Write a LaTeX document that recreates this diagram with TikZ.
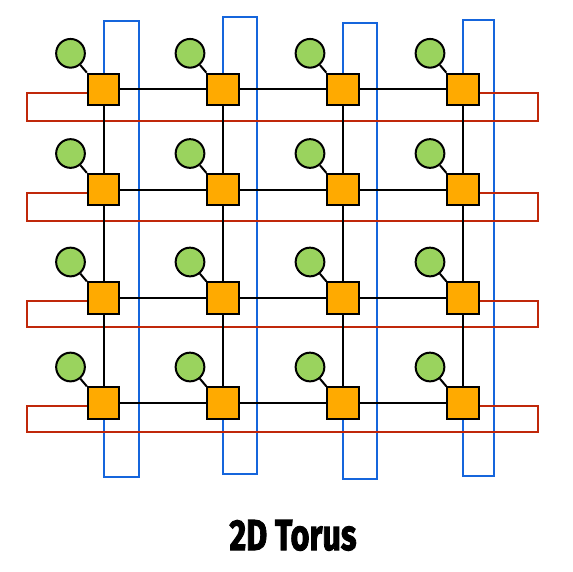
\documentclass[tikz,border=0pt]{standalone}
\usepackage{fontspec}
\newfontfamily\titlefont[FakeBold=2.5]{Fira Sans}
\definecolor{sqorange}{HTML}{FFAA00}
\definecolor{cgreen}{HTML}{9AD35E}
\definecolor{ringblue}{HTML}{1565DC}
\definecolor{ringred}{HTML}{C0280A}
\tikzset{
  router/.style={draw=black, line width=2pt, fill=sqorange, minimum size=31.3pt, inner sep=0pt, rectangle},
  proc/.style={draw=black, line width=2pt, fill=cgreen, minimum size=28.7pt, inner sep=0pt, circle},
  link/.style={draw=black, line width=2pt},
  bluering/.style={draw=ringblue, line width=2pt},
  redring/.style={draw=ringred, line width=2pt},
}
\begin{document}
\begin{tikzpicture}[x=1pt,y=-1pt]
\useasboundingbox (0,0) rectangle (573,571);
% column rings (blue)
\draw[bluering] (103.5,21) rectangle (139,476.7);
\draw[bluering] (223,17.3) rectangle (256.7,473.7);
\draw[bluering] (343,23.3) rectangle (376.7,478.7);
\draw[bluering] (463,20.3) rectangle (494,476);
% row rings (red)
\foreach \y/\b in {89.3/121,189.5/220.7,298/326.7,403/431.7}{
  \draw[redring] (103.5,\y+3.3) -- (26.7,\y+3.3) -- (26.7,\b) -- (538,\b) -- (538,\y+3.3) -- (463,\y+3.3);
}
% routers and processors
\foreach \c/\x in {1/103.5,2/223,3/343,4/463}{
  \foreach \r/\y in {1/89.3,2/189.5,3/298,4/403}{
    \node[router] (s\r\c) at (\x,\y) {};
    \node[proc] (c\r\c) at (\x-33,\y-36) {};
  }
}
% links
\foreach \r in {1,2,3,4}{
  \draw[link] (s\r1) -- (s\r2);
  \draw[link] (s\r2) -- (s\r3);
  \draw[link] (s\r3) -- (s\r4);
}
\foreach \c in {1,2,3,4}{
  \draw[link] (s1\c) -- (s2\c);
  \draw[link] (s2\c) -- (s3\c);
  \draw[link] (s3\c) -- (s4\c);
}
\foreach \r in {1,2,3,4}{
  \foreach \c in {1,2,3,4}{
    \draw[link] (c\r\c) -- (s\r\c.north west);
  }
}
\node[anchor=base, inner sep=0pt] (title) at (293,550) {\resizebox{127pt}{30pt}{\titlefont\bfseries 2D Torus}};
\end{tikzpicture}
\end{document}
